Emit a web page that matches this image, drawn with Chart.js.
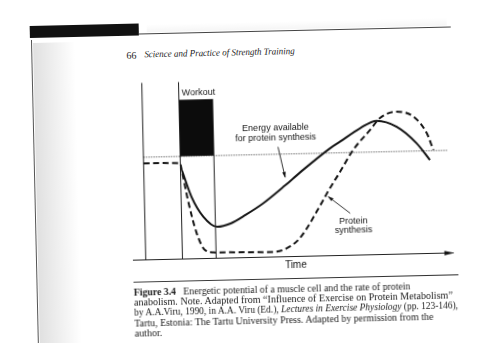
<!DOCTYPE html>
<html>
<head>
<meta charset="utf-8">
<script src="https://cdn.jsdelivr.net/npm/chart.js@4.4.0/dist/chart.umd.min.js"></script>
<style>
    html, body { margin: 0; padding: 0; background: #fff; overflow: hidden; }
    #page { position: absolute; left: 0; top: 0; width: 500px; height: 343px; transform: rotate(-1.3deg); transform-origin: 250px 171px; }
    #chart { position: absolute; left: 0; top: 0; }
    .serif { position: absolute; white-space: nowrap; line-height: 1; color: #1a1a1a; font-family: "Liberation Serif", "Times New Roman", serif; transform-origin: 0 50%; }
    .cap { font-size: 10px; left: 131px; }
    .edge { position: absolute; left: 34px; top: 35px; width: 1.3px; height: 320px; background: #555; }
    .grain { position: absolute; left: 36px; top: 38px; width: 42px; height: 320px; background: linear-gradient(to right, rgba(0,0,0,0.12), rgba(0,0,0,0)); }
    .bar { position: absolute; left: 33px; top: 21px; width: 109px; height: 12px; background: #111; }
    .topline { position: absolute; left: 142px; top: 31px; width: 312px; height: 1px; background: #444; }
    .topgrain { position: absolute; left: 150px; top: 22px; width: 300px; height: 8px; background: linear-gradient(to bottom, rgba(0,0,0,0), rgba(0,0,0,0.04)); }
    .rule { position: absolute; left: 131px; top: 278.5px; width: 325px; height: 1px; background: #333; }
</style>
</head>
<body>
<div id="page">
    <div class="grain"></div>
    <div class="edge"></div>
    <div class="topgrain"></div>
    <div class="bar"></div>
    <div class="topline"></div>

    <div class="serif" style="left:129px; top:47.5px; font-size:10px;">66</div>
    <div class="serif" style="left:147px; top:47.5px; font-size:9.5px; font-style:italic;" data-w="150">Science and Practice of Strength Training</div>

    <canvas id="chart" width="500" height="343"></canvas>

    <div class="rule"></div>
    <div class="serif cap" style="top:284.5px;" data-w="277"><b>Figure 3.4</b>&nbsp;&nbsp;&nbsp;Energetic potential of a muscle cell and the rate of protein</div>
    <div class="serif cap" style="top:294.9px;" data-w="319">anabolism. Note. Adapted from “Influence of Exercise on Protein Metabolism”</div>
    <div class="serif cap" style="top:305.3px;" data-w="324">by A.A.Viru, 1990, in A.A. Viru (Ed.), <i>Lectures in Exercise Physiology</i> (pp. 123-146),</div>
    <div class="serif cap" style="top:315.7px;" data-w="299">Tartu, Estonia: The Tartu University Press. Adapted by permission from the</div>
    <div class="serif cap" style="top:326.1px;">author.</div>
</div>

<script>
// Время (0..100) и уровни (0..100 от высоты оси)
const workoutStart = 12;
const workoutEnd = 23;
const workoutTop = 90;
const restLevel = 58;

// Синтез белка (пунктир)
const proteinTime = [0, 11.9, 12.4, 14.2, 16.8, 19.4, 22, 27.6, 41.6, 46.1, 50.5, 58, 59.7, 64.1, 68.5, 74.2, 77.5, 83, 88.4, 92.7, 94.7];
const proteinRate = [54.5, 54.2, 50.3, 33.3, 14.5, 4.8, 3.4, 3.2, 2.8, 4.7, 10.4, 30.4, 35.5, 47.3, 59.4, 70.5, 77.1, 80.5, 77.5, 67.9, 58.4];

// Энергия для синтеза (сплошная)
const energyTime = [12.5, 15.4, 19.1, 23.6, 28, 33, 38.8, 46, 51, 61, 64.3, 70.9, 76.4, 82.9, 89.3, 93.5];
const energyLevel = [50, 35, 23.7, 17.8, 19.5, 24.2, 30.5, 40.2, 47.4, 60.7, 64.3, 71.6, 75.6, 72, 62.4, 52.8];

// Стрелки-выноски
const energyArrowX = [44, 46.1];
const energyArrowY = [62.1, 45];
const proteinArrowX = [67.1, 60.1];
const proteinArrowY = [23.7, 33.3];

// Подписи
const workoutLabel = 'Workout';
const energyLabel = ['Energy available', 'for protein synthesis'];
const proteinLabel = ['Protein', 'synthesis'];
const axisLabel = 'Time';

const ink = '#151515';
const pts = (xs, ys) => xs.map((x, i) => ({ x: x, y: ys[i] }));

// Подгоняем ширину строк текста страницы
document.querySelectorAll('[data-w]').forEach(el => {
    const w = parseFloat(el.dataset.w);
    el.style.transform = `scaleX(${w / el.offsetWidth})`;
});

function drawHead(ctx, x0, y0, x1, y1, len, half) {
    const a = Math.atan2(y1 - y0, x1 - x0);
    ctx.save();
    ctx.translate(x1, y1);
    ctx.rotate(a);
    ctx.beginPath();
    ctx.moveTo(1, 0);
    ctx.lineTo(-len, -half);
    ctx.lineTo(-len, half);
    ctx.closePath();
    ctx.fill();
    ctx.restore();
}

// Плагин: наконечники стрелок и надписи
const labelsPlugin = {
    id: 'figureLabels',
    afterDatasetsDraw(chart) {
        const ctx = chart.ctx;
        const x = chart.scales.x;
        const y = chart.scales.y;
        ctx.save();
        ctx.fillStyle = ink;

        chart.data.datasets.forEach((ds, i) => {
            if (!ds.head) return;
            const els = chart.getDatasetMeta(i).data;
            const a = els[els.length - 2];
            const b = els[els.length - 1];
            drawHead(ctx, a.x, a.y, b.x, b.y, ds.head[0], ds.head[1]);
        });

        ctx.textBaseline = 'middle';
        ctx.font = '9px "Liberation Sans", Arial, sans-serif';
        ctx.textAlign = 'left';
        ctx.fillText(workoutLabel, x.getPixelForValue(13), y.getPixelForValue(93.9));

        ctx.textAlign = 'center';
        energyLabel.forEach((t, k) => {
            ctx.fillText(t, x.getPixelForValue(43.3), y.getPixelForValue(72.8) + k * 10);
        });
        proteinLabel.forEach((t, k) => {
            ctx.fillText(t, x.getPixelForValue(68.1), y.getPixelForValue(19.1) + k * 9.3);
        });

        ctx.font = '10px "Liberation Sans", Arial, sans-serif';
        ctx.fillText(axisLabel, x.getPixelForValue(49), y.getPixelForValue(-4.8));
        ctx.restore();
    }
};

const ctx = document.getElementById('chart').getContext('2d');
const figureChart = new Chart(ctx, {
    type: 'line',
    data: {
        datasets: [
            {
                // Блок тренировки
                data: pts([workoutStart, workoutEnd], [workoutTop, workoutTop]),
                fill: { value: restLevel },
                backgroundColor: '#0c0c0c',
                borderWidth: 0
            },
            {
                // Уровень покоя
                data: pts([0, 99.5], [restLevel, restLevel]),
                borderColor: '#2a2a2a',
                borderWidth: 1,
                borderDash: [1, 1.5]
            },
            {
                data: pts([workoutStart, workoutStart], [0, 100]),
                borderColor: '#222',
                borderWidth: 1
            },
            {
                data: pts([workoutEnd, workoutEnd], [0, workoutTop]),
                borderColor: '#222',
                borderWidth: 1
            },
            {
                // Ось Y
                data: pts([0, 0], [0, 100]),
                borderColor: '#222',
                borderWidth: 1
            },
            {
                // Ось времени
                data: pts([-4.2, 100.5], [0, 0]),
                borderColor: '#222',
                borderWidth: 1.2,
                head: [9, 2.3]
            },
            {
                label: 'Protein synthesis',
                data: pts(proteinTime, proteinRate),
                borderColor: ink,
                borderWidth: 2,
                borderDash: [6, 3.5],
                cubicInterpolationMode: 'monotone'
            },
            {
                label: 'Energy available for protein synthesis',
                data: pts(energyTime, energyLevel),
                borderColor: ink,
                borderWidth: 2,
                cubicInterpolationMode: 'monotone'
            },
            {
                data: pts(energyArrowX, energyArrowY),
                borderColor: '#333',
                borderWidth: 1,
                head: [5, 1.8]
            },
            {
                data: pts(proteinArrowX, proteinArrowY),
                borderColor: '#333',
                borderWidth: 1,
                head: [5, 1.8]
            }
        ]
    },
    options: {
        responsive: false,
        animation: false,
        clip: false,
        layout: {
            padding: { left: 143.8, right: 50, top: 80.5, bottom: 85.5 }
        },
        elements: {
            point: { radius: 0, hoverRadius: 0 },
            line: { borderCapStyle: 'butt' }
        },
        plugins: {
            legend: { display: false },
            tooltip: { enabled: false }
        },
        scales: {
            x: { type: 'linear', min: 0, max: 100, display: false },
            y: { type: 'linear', min: 0, max: 100, display: false }
        }
    },
    plugins: [labelsPlugin]
});
</script>
</body>
</html>
